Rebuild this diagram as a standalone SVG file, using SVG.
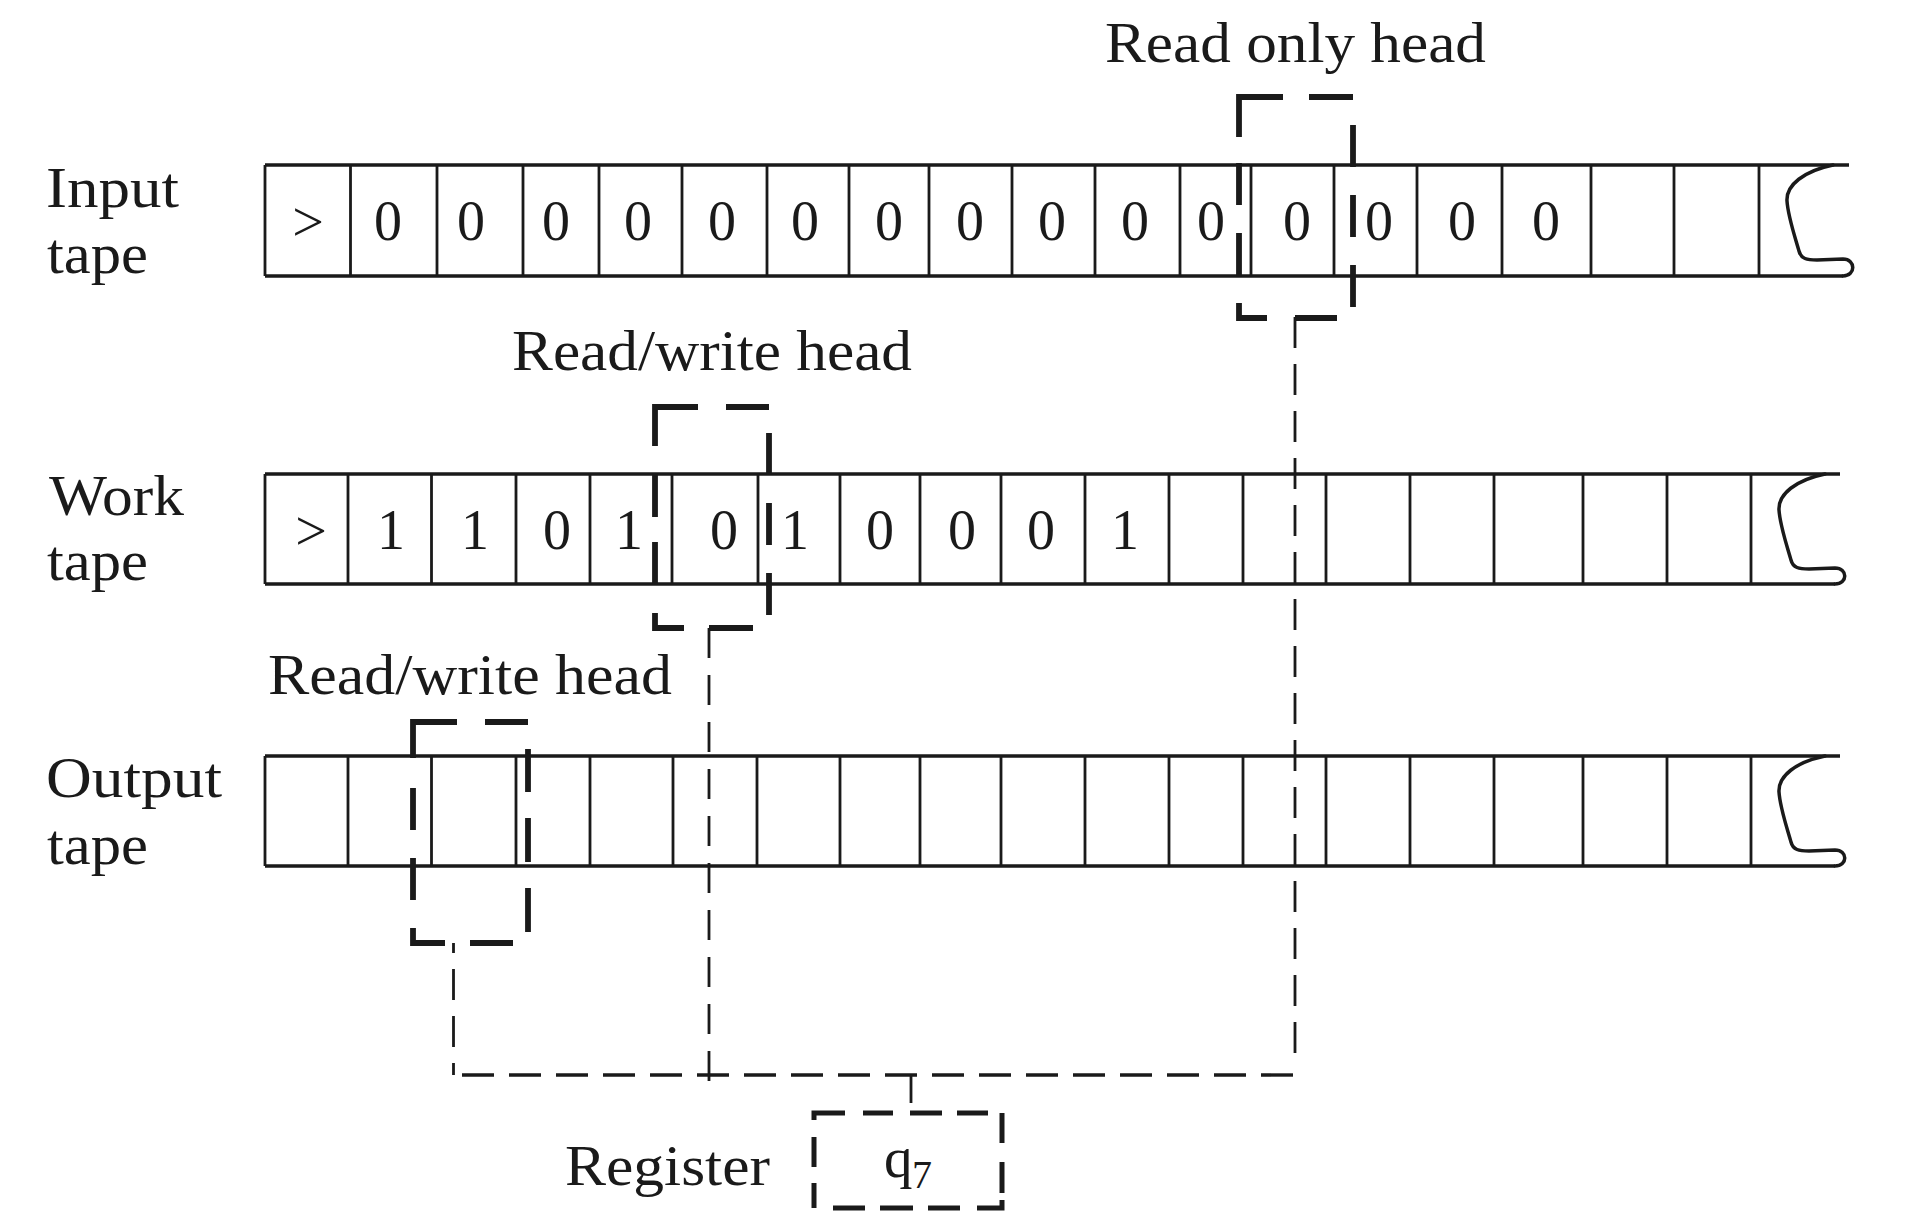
<svg xmlns="http://www.w3.org/2000/svg" width="1928" height="1220" viewBox="0 0 1928 1220">
<style>
.bg{fill:#ffffff}
.edge{stroke:#1a1a1a;stroke-width:3.5;fill:none;stroke-linecap:butt}
.cell{stroke:#1a1a1a;stroke-width:2.8;fill:none}
.curl{stroke:#1a1a1a;stroke-width:3.5;fill:none;stroke-linecap:round;stroke-linejoin:round}
.head{stroke:#1a1a1a;stroke-width:5.8;fill:none;stroke-linecap:butt;stroke-linejoin:miter}
.reg{stroke:#1a1a1a;stroke-width:5;fill:none;stroke-linecap:butt;stroke-linejoin:miter}
.conn{stroke:#1a1a1a;stroke-width:2.8;fill:none;stroke-dasharray:31 16}
.connh{stroke:#1a1a1a;stroke-width:3.4;fill:none;stroke-dasharray:32 15}
.solid{stroke:#1a1a1a;stroke-width:2.8;fill:none}
.lbl{font-family:"Liberation Serif","Times New Roman",serif;font-size:57px;fill:#1a1a1a}
.sym{font-family:"Liberation Serif","Times New Roman",serif;font-size:56px;fill:#1a1a1a;text-anchor:middle}
</style>
<rect class="bg" x="0" y="0" width="1928" height="1220"/>

<g id="input-tape">
  <path class="edge" d="M265,165 H1849 M265,276 H1843"/>
  <path class="cell" d="M265,165 V276 M350.5,165 V276 M437,165 V276 M523,165 V276 M599,165 V276 M682,165 V276 M767,165 V276 M849,165 V276 M929,165 V276 M1012,165 V276 M1095,165 V276 M1180,165 V276 M1251,165 V276 M1334,165 V276 M1417,165 V276 M1502,165 V276 M1591,165 V276 M1674,165 V276 M1759,165 V276"/>
  <path class="curl" d="M1833,165 C1804,171 1786,185 1787,201 C1788,217 1796,240 1799,251 C1801,259 1807,260 1817,260 L1843,259 C1856,259 1856,276 1843,276"/>
  <text class="sym" x="308" y="241">&gt;</text>
  <text class="sym" x="388" y="240">0</text>
  <text class="sym" x="471" y="240">0</text>
  <text class="sym" x="556" y="240">0</text>
  <text class="sym" x="638" y="240">0</text>
  <text class="sym" x="722" y="240">0</text>
  <text class="sym" x="805" y="240">0</text>
  <text class="sym" x="889" y="240">0</text>
  <text class="sym" x="970" y="240">0</text>
  <text class="sym" x="1052" y="240">0</text>
  <text class="sym" x="1135" y="240">0</text>
  <text class="sym" x="1211" y="240">0</text>
  <text class="sym" x="1297" y="240">0</text>
  <text class="sym" x="1379" y="240">0</text>
  <text class="sym" x="1462" y="240">0</text>
  <text class="sym" x="1546" y="240">0</text>
</g>

<g id="work-tape">
  <path class="edge" d="M265,474 H1840 M265,584 H1835"/>
  <path class="cell" d="M265,474 V584 M348,474 V584 M431.5,474 V584 M516,474 V584 M590,474 V584 M672,474 V584 M758,474 V584 M840,474 V584 M920,474 V584 M1001,474 V584 M1085,474 V584 M1169,474 V584 M1243,474 V584 M1326,474 V584 M1410,474 V584 M1494,474 V584 M1583,474 V584 M1667,474 V584 M1751,474 V584"/>
  <path class="curl" d="M1825,474 C1796,480 1778,494 1779,510 C1780,526 1788,549 1791,560 C1793,568 1799,569 1809,569 L1835,568 C1848,568 1848,584 1835,584"/>
  <text class="sym" x="311" y="550">&gt;</text>
  <text class="sym" x="391" y="549">1</text>
  <text class="sym" x="475" y="549">1</text>
  <text class="sym" x="557" y="549">0</text>
  <text class="sym" x="629" y="549">1</text>
  <text class="sym" x="724" y="549">0</text>
  <text class="sym" x="795" y="549">1</text>
  <text class="sym" x="880" y="549">0</text>
  <text class="sym" x="962" y="549">0</text>
  <text class="sym" x="1041" y="549">0</text>
  <text class="sym" x="1125" y="549">1</text>
</g>

<g id="output-tape">
  <path class="edge" d="M265,756 H1840 M265,866 H1835"/>
  <path class="cell" d="M265,756 V866 M348,756 V866 M431.5,756 V866 M516,756 V866 M590,756 V866 M673,756 V866 M757,756 V866 M840,756 V866 M920,756 V866 M1001,756 V866 M1085,756 V866 M1169,756 V866 M1243,756 V866 M1326,756 V866 M1410,756 V866 M1494,756 V866 M1583,756 V866 M1667,756 V866 M1751,756 V866"/>
  <path class="curl" d="M1825,756 C1796,762 1778,776 1779,792 C1780,808 1788,831 1791,842 C1793,850 1799,851 1809,851 L1835,850 C1848,850 1848,866 1835,866"/>
</g>

<g id="tape-labels">
  <text class="lbl" x="46" y="207" textLength="133" lengthAdjust="spacingAndGlyphs">Input</text>
  <text class="lbl" x="47" y="273" textLength="101" lengthAdjust="spacingAndGlyphs">tape</text>
  <text class="lbl" x="49" y="515" textLength="135" lengthAdjust="spacingAndGlyphs">Work</text>
  <text class="lbl" x="47" y="580" textLength="101" lengthAdjust="spacingAndGlyphs">tape</text>
  <text class="lbl" x="46" y="797" textLength="176" lengthAdjust="spacingAndGlyphs">Output</text>
  <text class="lbl" x="47" y="864" textLength="101" lengthAdjust="spacingAndGlyphs">tape</text>
</g>

<g id="read-only-head">
  <path class="head" d="M1239,137 V97 H1283 M1309,97 H1353 M1353,125 V167 M1353,195 V237 M1353,265 V307 M1239,163 V205 M1239,233 V277 M1239,303 V318 H1267 M1295,318 H1337"/>
  <text class="lbl" x="1105" y="62" textLength="381" lengthAdjust="spacingAndGlyphs">Read only head</text>
</g>

<g id="work-head">
  <path class="head" d="M655,446 V407 H698 M726,407 H769 M769,433 V475 M769,503 V545 M769,573 V615 M655,473 V517 M655,542 V585 M655,613 V628 H684 M709,628 H753"/>
  <text class="lbl" x="512" y="370" textLength="400" lengthAdjust="spacingAndGlyphs">Read/write head</text>
</g>

<g id="output-head">
  <path class="head" d="M413,758 V722 H457 M485,722 H528 M528,749 V792 M528,818 V862 M528,888 V932 M413,788 V830 M413,858 V900 M413,928 V943 H445 M470,943 H513"/>
  <text class="lbl" x="268" y="694" textLength="404" lengthAdjust="spacingAndGlyphs">Read/write head</text>
</g>

<g id="register">
  <path class="reg" d="M814,1120 V1113 H845 M863,1113 H893 M910,1113 H942 M957,1113 H988 M1002,1113 V1143 M1002,1162 V1193 M814,1137 V1167 M814,1183 V1208 M833,1208 H865 M880,1208 H913 M928,1208 H960 M977,1208 H1002 V1200"/>
  <text class="lbl" x="565" y="1185" textLength="205" lengthAdjust="spacingAndGlyphs">Register</text>
  <text class="lbl" x="884" y="1177" font-size="58">q</text>
  <text class="lbl" x="912" y="1188" style="font-size:40px">7</text>
</g>

<g id="connectors">
  <line class="conn" x1="1295" y1="317" x2="1295" y2="1060"/>
  <line class="conn" x1="709" y1="628" x2="709" y2="1082" style="stroke-dasharray:30 17"/>
  <line class="conn" x1="453.5" y1="943" x2="453.5" y2="1075" style="stroke-dashoffset:21"/>
  <line class="connh" x1="453" y1="1075" x2="1297" y2="1075" style="stroke-dashoffset:38"/>
  <line class="solid" x1="911" y1="1075" x2="911" y2="1103"/>
</g>
</svg>
